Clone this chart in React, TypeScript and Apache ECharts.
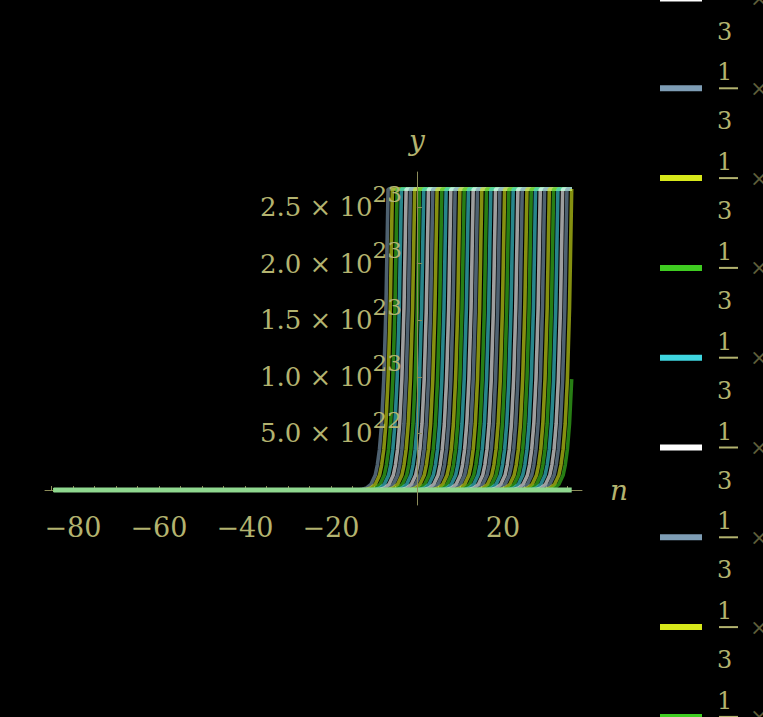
import { useEffect, useRef } from "react";
import * as echarts from "echarts";

// ---- data ----
const domainStart = -84.5;
const domainEnd = 36;
const plotTop = 2.66e23;

// n at which each curve reaches the top of the plot range
const crossings = [
  -6.7, -5.7, -4.6, -3.6, -2.5, -1.5, -0.5, 0.6, 1.6, 2.7,
  3.7, 4.7, 5.8, 6.8, 7.9, 8.9, 10.0, 11.0, 12.0, 13.1,
  14.1, 15.1, 16.2, 17.2, 18.3, 19.3, 20.4, 21.4, 22.4, 23.5,
  24.5, 25.6, 26.6, 27.6, 28.7, 29.7, 30.8, 31.8, 32.8, 33.9,
  34.9, 36.0, 37.0,
];
// shape of each rise: offset (in n) before the crossing, and the value there
const riseOffsets = [-7, -6, -5, -4, -3, -2.5, -2, -1.5, -1, -0.5, 0];
const riseValues = [0, 0.007e23, 0.018e23, 0.049e23, 0.13e23, 0.22e23, 0.36e23, 0.59e23, 0.98e23, 1.61e23, 2.66e23];

const palette = ["#7e9db5", "#d7e81a", "#3fcc21", "#3fd6e0", "#ffffff"];

const xTicks = [-80, -60, -40, -20, 20];
const xTickLabels = ["\u221280", "\u221260", "\u221240", "\u221220", "20"];
const xMinorTicks = [-85, -80, -75, -70, -65, -60, -55, -50, -45, -40, -35, -30, -25, -20, -15, -10, -5, 5, 10, 15, 20, 25, 30, 35];
const yTicks = [5e22, 1e23, 1.5e23, 2e23, 2.5e23];
const yTickMantissas = ["5.0", "1.0", "1.5", "2.0", "2.5"];
const yTickExponents = ["22", "23", "23", "23", "23"];
const legendNumerator = "1";
const legendDenominator = "3";

const olive = "#b3b36f";
const axisColor = "#8c8c5a";
const serif = "DejaVu Serif";

const X_MIN = -86.5;
const X_MAX = 38.4;
const GRID_LEFT = 45;
const GRID_RIGHT = 181;
const GRID_W = 763 - GRID_LEFT - GRID_RIGHT;

function buildOption() {
  const names = crossings.map((_, k) => `curve ${k + 1}`);
  const curves = crossings.map((t, k) => {
    const pts: [number, number][] = [[domainStart, 0]];
    riseOffsets.forEach((o, i) => {
      const n = t + o;
      if (n <= domainEnd) pts.push([n, riseValues[i]]);
    });
    const last = pts[pts.length - 1];
    if (last[1] === plotTop && last[0] < domainEnd) pts.push([domainEnd, plotTop]);
    const color = palette[k % palette.length];
    return {
      name: names[k],
      type: "line",
      data: pts,
      showSymbol: false,
      symbol: "none",
      silent: true,
      z: 2,
      itemStyle: { color },
      lineStyle: { color, width: 3.6, opacity: 0.62 },
    };
  });
  const baseline = {
    name: "baseline",
    type: "line",
    data: [
      [domainStart, 0],
      [domainEnd, 0],
    ],
    showSymbol: false,
    symbol: "none",
    silent: true,
    z: 3,
    lineStyle: { color: "#8fd88f", width: 5 },
    itemStyle: { color: "#8fd88f" },
  };

  // y axis sits at n = 0, inside the grid
  const yAxisOffset = -((0 - X_MIN) / (X_MAX - X_MIN)) * GRID_W;

  return {
    animation: false,
    backgroundColor: "#000",
    grid: {
      left: GRID_LEFT,
      right: GRID_RIGHT,
      top: 172,
      bottom: 212,
      containLabel: false,
      outerBoundsMode: "none",
    },
    legend: {
      data: names,
      orient: "vertical",
      left: 660,
      top: -1748.7,
      height: 5000,
      padding: 0,
      itemWidth: 42,
      itemHeight: 6,
      itemGap: 3.8,
      icon: "rect",
      selectedMode: false,
      formatter: () =>
        `{sp| }\n{s| }{num|${legendNumerator}}\n{s2| }{bar| }{g| }{x|\u00d7}\n{sp2| }\n{s| }{num|${legendDenominator}}`,
      textStyle: {
        color: olive,
        fontFamily: serif,
        fontSize: 22,
        lineHeight: 16,
        rich: {
          sp: { fontSize: 8, lineHeight: 17, height: 17 },
          sp2: { fontSize: 8, lineHeight: 17, height: 17 },
          s: { fontSize: 8, width: 10, lineHeight: 16 },
          s2: { fontSize: 8, width: 12, lineHeight: 16 },
          num: { fontSize: 24, fontFamily: serif, color: olive, lineHeight: 16 },
          bar: { fontSize: 8, width: 19, height: 2, lineHeight: 16, backgroundColor: olive },
          g: { fontSize: 8, width: 12, lineHeight: 16 },
          x: { fontSize: 22, fontFamily: serif, color: "#5d5d3a", lineHeight: 16 },
        },
      },
    },
    xAxis: {
      type: "value",
      min: X_MIN,
      max: X_MAX,
      name: "n",
      nameLocation: "end",
      nameGap: 28,
      nameTextStyle: { color: olive, fontFamily: serif, fontSize: 28, fontStyle: "italic", verticalAlign: "middle" },
      axisLine: { onZero: true, lineStyle: { color: axisColor, width: 1 } },
      axisTick: { show: true, inside: true, length: 4, customValues: xMinorTicks, lineStyle: { color: axisColor } },
      axisLabel: {
        customValues: xTicks,
        color: olive,
        fontFamily: serif,
        fontSize: 27,
        margin: 9,
        formatter: (v: number) => {
          const i = xTicks.indexOf(v);
          return i >= 0 ? xTickLabels[i] : "";
        },
      },
      splitLine: { show: false },
    },
    yAxis: {
      type: "value",
      min: -1.325e22,
      max: 2.81e23,
      z: 5,
      position: "left",
      offset: yAxisOffset,
      name: "y",
      nameLocation: "end",
      nameGap: 18,
      nameTextStyle: { color: olive, fontFamily: serif, fontSize: 28, fontStyle: "italic" },
      axisLine: { show: true, onZero: false, lineStyle: { color: axisColor, width: 1 } },
      axisTick: { show: true, inside: true, length: 5, customValues: yTicks, lineStyle: { color: axisColor } },
      axisLabel: {
        customValues: yTicks,
        margin: 15,
        color: olive,
        fontFamily: serif,
        formatter: (v: number) => {
          const i = yTicks.findIndex((t) => Math.abs(t - v) < 1e18);
          return i >= 0 ? `{m|${yTickMantissas[i]} \u00d7 10}{e|${yTickExponents[i]}}` : "";
        },
        rich: {
          m: { fontSize: 26, fontFamily: serif, color: olive, lineHeight: 50, verticalAlign: "middle" },
          e: { fontSize: 23, fontFamily: serif, color: olive, lineHeight: 26, verticalAlign: "top" },
        },
      },
      splitLine: { show: false },
    },
    series: [...curves, baseline],
  };
}

export default function App() {
  const ref = useRef<HTMLDivElement>(null);
  useEffect(() => {
    const chart = echarts.init(ref.current!, null, { renderer: "svg" });
    chart.setOption(buildOption() as any);
    return () => chart.dispose();
  }, []);
  return (
    <div
      ref={ref}
      style={{ position: "fixed", left: 0, top: 0, width: 763, height: 717, background: "#000" }}
    />
  );
}
